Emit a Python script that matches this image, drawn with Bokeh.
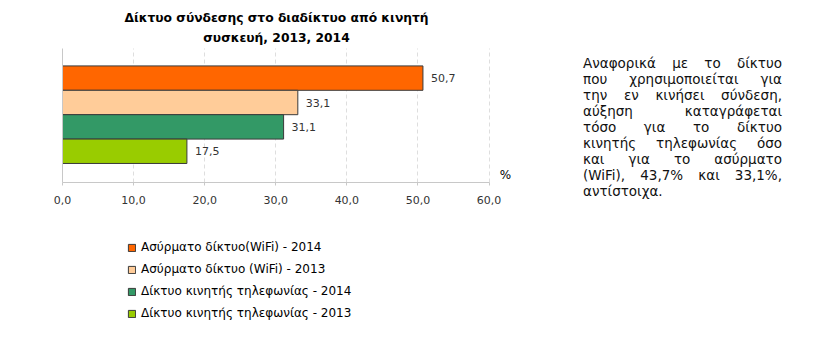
from bokeh.plotting import figure
from bokeh.models import ColumnDataSource, LabelSet, Label, Legend, LegendItem, Div, FixedTicker, Range1d
from bokeh.core.properties import value
from bokeh.layouts import row, column
from bokeh.embed import file_html
from bokeh.resources import INLINE

# ---- data ----
series = ["Ασύρματο δίκτυο(WiFi) - 2014", "Ασύρματο δίκτυο (WiFi) - 2013",
          "Δίκτυο κινητής τηλεφωνίας - 2014", "Δίκτυο κινητής τηλεφωνίας - 2013"]
values = [50.7, 33.1, 31.1, 17.5]
value_labels = ["50,7", "33,1", "31,1", "17,5"]
colors = ["#FF6600", "#FFCC99", "#339966", "#99CC00"]
positions = [4, 3, 2, 1]
ticks = [0, 10, 20, 30, 40, 50, 60]
tick_labels = ["0,0", "10,0", "20,0", "30,0", "40,0", "50,0", "60,0"]
unit_label = "%"
title_lines = ["Δίκτυο σύνδεσης στο διαδίκτυο από κινητή", "συσκευή, 2013, 2014"]
para_lines = ["Αναφορικά με το δίκτυο", "που χρησιμοποιείται για", "την εν κινήσει σύνδεση,",
              "αύξηση καταγράφεται", "τόσο για το δίκτυο", "κινητής τηλεφωνίας όσο",
              "και για το ασύρματο", "(WiFi), 43,7% και 33,1%,", "αντίστοιχα."]

FONT = "DejaVu Sans"

src = ColumnDataSource(dict(y=positions, v=values, lab=value_labels))

p = figure(width=570, height=215, output_backend="svg", toolbar_location=None,
           x_range=Range1d(0, 64), y_range=Range1d(-0.28, 7.1),
           min_border_left=62, min_border_right=53, min_border_top=2, min_border_bottom=33)
p.outline_line_color = None
p.background_fill_color = "white"
p.border_fill_color = "white"

for i in range(len(values)):
    p.hbar(y=[positions[i]], right=[values[i]], left=0, height=1.0,
           fill_color=colors[i], line_color="#3a3a3a", line_width=1)

labels = LabelSet(x="v", y="y", text="lab", source=src, x_offset=8, text_baseline="middle",
                  text_font=value(FONT), text_font_size="11px", text_color="#333333")
p.add_layout(labels)

# axes
p.xaxis.ticker = FixedTicker(ticks=ticks)
p.xaxis.bounds = (0, 60)
p.xaxis.major_label_overrides = {t: l for t, l in zip(ticks, tick_labels)}
p.xaxis.axis_line_color = "#c8c8c8"
p.xaxis.major_tick_line_color = "#c8c8c8"
p.xaxis.major_tick_in = 0
p.xaxis.major_tick_out = 3
p.xaxis.minor_tick_line_color = None
p.xaxis.major_label_text_font = FONT
p.xaxis.major_label_text_font_size = "11px"
p.xaxis.major_label_text_color = "#333333"
p.xaxis.major_label_standoff = 10

p.yaxis.bounds = (-0.28, 5.21)
p.yaxis.major_label_text_font_size = "0px"
p.yaxis.major_tick_line_color = None
p.yaxis.minor_tick_line_color = None
p.yaxis.axis_line_color = "#c8c8c8"
p.yaxis.ticker = FixedTicker(ticks=[])

p.ygrid.grid_line_color = None
p.xgrid.ticker = FixedTicker(ticks=ticks[1:])
p.xgrid.grid_line_color = "#dedede"
p.xgrid.grid_line_dash = "4 3"
try:
    p.xgrid.cross_bounds = (-0.28, 5.21)
except Exception:
    pass

# title lines (inside the frame, above the bars)
for k, t in enumerate(title_lines):
    p.add_layout(Label(x=214, y=165 - k * 20, x_units="screen", y_units="screen",
                       text=t, text_align="center", text_baseline="middle",
                       text_font=FONT, text_font_style="bold", text_font_size="12.3px",
                       text_color="#000000"))

# % unit label
p.add_layout(Label(x=443, y=1, x_units="screen", y_units="screen", text=unit_label,
                   text_align="center", text_baseline="bottom", text_font=FONT,
                   text_font_size="12px", text_color="#000000"))

# ---- legend figure (its bars are hidden; only the legend shows) ----
lf = figure(width=570, height=124, output_backend="svg", toolbar_location=None,
            x_range=Range1d(0, 64), y_range=Range1d(0, 5),
            x_axis_location=None, y_axis_location=None, min_border=0)
lf.outline_line_color = None
lf.grid.grid_line_color = None
leg_renderers = []
for i in range(len(series)):
    r = lf.hbar(y=[positions[i]], right=[values[i]], left=0, height=0.5,
                fill_color=colors[i], line_color="#3a3a3a", line_width=1, visible=False)
    leg_renderers.append(r)

legend = Legend(items=[LegendItem(label=series[i], renderers=[leg_renderers[i]]) for i in range(4)],
                location=(65, 18), orientation="vertical", click_policy="none",
                glyph_width=9, glyph_height=9, label_height=16, spacing=6,
                label_standoff=5, padding=0, margin=0,
                border_line_alpha=0, background_fill_alpha=0,
                label_text_font=FONT, label_text_font_size="12px", label_text_color="#000000")
lf.add_layout(legend, "center")

lines_html = ""
for k, l in enumerate(para_lines):
    last = k == len(para_lines) - 1
    align = "text-align:left;white-space:nowrap;" if last else "text-align:justify;text-align-last:justify;"
    lines_html += f'<div style="{align}">{l}</div>'

div = Div(text=f'<div style="width:199px;font-family:\'{FONT}\';font-size:13.5px;line-height:16px;color:#111;">{lines_html}</div>',
          width=199, height=160, margin=(55, 0, 0, 13))

layout = row(column(p, lf), div)
open("out.html", "w").write(file_html(layout, INLINE))
